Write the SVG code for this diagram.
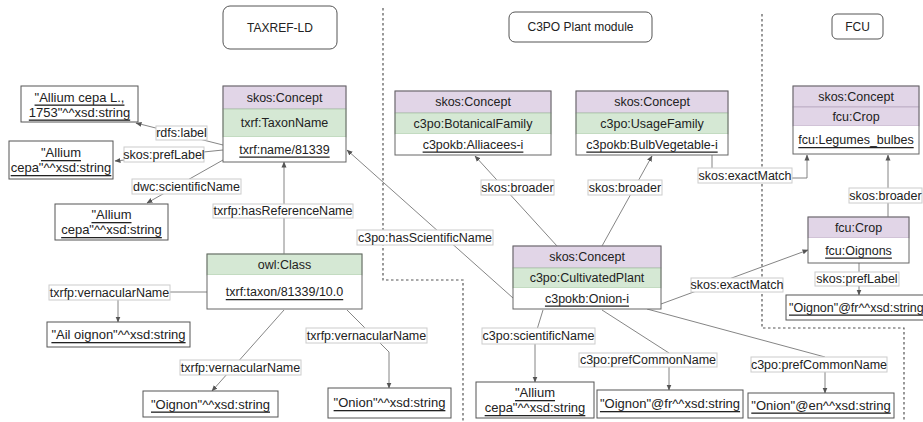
<svg xmlns="http://www.w3.org/2000/svg" width="923" height="422" viewBox="0 0 923 422">
<defs>
<marker id="arr" markerUnits="userSpaceOnUse" markerWidth="6" markerHeight="6" refX="5.5" refY="3" orient="auto">
<path d="M0,0.5 L6,3 L0,5.5 z" fill="#555"/>
</marker>
<style>
text{font-family:"Liberation Sans",Arial,Helvetica,sans-serif;font-size:12.5px;fill:#222;}
.c{text-anchor:middle;dominant-baseline:central;}
.u{text-decoration:underline;}
.t{font-size:12px;}
.lt{font-size:13px;}
.edge{fill:none;stroke:#777;stroke-width:0.9;marker-end:url(#arr);}
.lbl{fill:#fff;stroke:#ccc;stroke-width:1;}
.lit{fill:#fff;stroke:#555;stroke-width:1;}
.title{fill:#fff;stroke:#555;stroke-width:1;}
.pur{fill:#e1d5e7;stroke:#b8a9c0;stroke-width:0.8;}
.grn{fill:#d5e8d4;stroke:#a9c9a6;stroke-width:0.8;}
.wht{fill:#fff;stroke:none;}
.outl{fill:none;stroke:#666;stroke-width:1;}
.dash{fill:none;stroke:#555;stroke-width:1.2;stroke-dasharray:2.5 2.5;}
</style>
</defs>
<rect width="923" height="422" fill="#fff"/>

<g id="separators">
<path class="dash" d="M383,8 V280 H463 V422"/>
<path class="dash" d="M762,14 V328 H904 V422"/>
</g>

<g id="titles">
<g id="title-taxref"><rect class="title" x="223" y="6" width="114" height="43" rx="7"/><text class="c t" x="280" y="28">TAXREF-LD</text></g>
<g id="title-c3po"><rect class="title" x="509" y="12" width="143" height="30" rx="6"/><text class="c t" x="580.5" y="27">C3PO Plant module</text></g>
<g id="title-fcu"><rect class="title" x="832" y="14" width="51" height="25" rx="5"/><text class="c t" x="857.5" y="26.5">FCU</text></g>
</g>

<g id="connectors">
<path class="edge" d="M223,145 L136,123"/>
<path class="edge" d="M223,150 L115,161"/>
<path class="edge" d="M223,160 L147,203"/>
<path class="edge" d="M284,254 L284,162"/>
<path class="edge" d="M513,298 L347,150"/>
<path class="edge" d="M207,292 L118,292 L118,322"/>
<path class="edge" d="M284,310 L212,391"/>
<path class="edge" d="M347,310 L389,352 L389,388"/>
<path class="edge" d="M557,246 L475,156"/>
<path class="edge" d="M602,246 L652,156"/>
<path class="edge" d="M712,155 L712,178 L807,178 L807,155"/>
<path class="edge" d="M888,217 L888,155"/>
<path class="edge" d="M661,304 L808,250"/>
<path class="edge" d="M859,263 L859,295"/>
<path class="edge" d="M543,310 L535,336 L535,382"/>
<path class="edge" d="M602,310 L669,353 L669,390"/>
<path class="edge" d="M647,309 L825,357 L825,393"/>

<g id="edge-labels">
<rect class="lbl" x="156" y="126" width="51" height="14"/><text class="c" x="181.5" y="133">rdfs:label</text>
<rect class="lbl" x="124" y="147" width="80" height="15"/><text class="c" x="164" y="154.5">skos:prefLabel</text>
<rect class="lbl" x="132" y="179" width="109" height="15"/><text class="c" x="186.5" y="186.5">dwc:scientificName</text>
<rect class="lbl" x="213" y="204" width="140" height="14"/><text class="c" x="283" y="211">txrfp:hasReferenceName</text>
<rect class="lbl" x="357" y="230" width="136" height="15"/><text class="c" x="425" y="237.5">c3po:hasScientificName</text>
<rect class="lbl" x="49" y="285" width="121" height="15"/><text class="c" x="109.5" y="292.5">txrfp:vernacularName</text>
<rect class="lbl" x="180" y="360" width="121" height="15"/><text class="c" x="240.5" y="367.5">txrfp:vernacularName</text>
<rect class="lbl" x="306" y="328" width="121" height="15"/><text class="c" x="366.5" y="335.5">txrfp:vernacularName</text>
<rect class="lbl" x="481" y="180" width="73" height="15"/><text class="c" x="517.5" y="187.5">skos:broader</text>
<rect class="lbl" x="588" y="180" width="74" height="15"/><text class="c" x="625" y="187.5">skos:broader</text>
<rect class="lbl" x="698" y="168" width="94" height="15"/><text class="c" x="745" y="175.5">skos:exactMatch</text>
<rect class="lbl" x="849" y="188" width="73" height="15"/><text class="c" x="885.5" y="195.5">skos:broader</text>
<rect class="lbl" x="691" y="278" width="92" height="14"/><text class="c" x="737" y="285">skos:exactMatch</text>
<rect class="lbl" x="815" y="272" width="84" height="14"/><text class="c" x="857" y="279">skos:prefLabel</text>
<rect class="lbl" x="482" y="328" width="113" height="16"/><text class="c" x="538.5" y="336">c3po:scientificName</text>
<rect class="lbl" x="579" y="353" width="138" height="14"/><text class="c" x="648" y="360">c3po:prefCommonName</text>
<rect class="lbl" x="751" y="357" width="136" height="15"/><text class="c" x="819" y="364.5">c3po:prefCommonName</text>
</g>
</g>

<g id="node-taxonname">
<rect class="pur" x="223" y="86" width="123" height="23"/>
<rect class="grn" x="223" y="109" width="123" height="28"/>
<rect class="wht" x="223" y="137" width="123" height="25"/>
<rect class="outl" x="223" y="86" width="123" height="76"/>
<text class="c" x="284.5" y="97.5">skos:Concept</text>
<text class="c" x="284.5" y="123">txrf:TaxonName</text>
<text class="c u" x="284.5" y="149.5">txrf:name/81339</text>
</g>

<g id="node-taxon">
<rect class="grn" x="207" y="254" width="155" height="21"/>
<rect class="wht" x="207" y="275" width="155" height="34"/>
<rect class="outl" x="207" y="254" width="155" height="55"/>
<text class="c" x="284.5" y="264.5">owl:Class</text>
<text class="c u" x="284.5" y="292">txrf:taxon/81339/10.0</text>
</g>

<g id="node-alliacees">
<rect class="pur" x="395" y="91" width="156" height="22"/>
<rect class="grn" x="395" y="113" width="156" height="21"/>
<rect class="wht" x="395" y="134" width="156" height="21"/>
<rect class="outl" x="395" y="91" width="156" height="64"/>
<text class="c" x="473" y="102">skos:Concept</text>
<text class="c" x="473" y="123.5">c3po:BotanicalFamily</text>
<text class="c u" x="473" y="144.5">c3pokb:Alliacees-i</text>
</g>

<g id="node-bulbvegetable">
<rect class="pur" x="576" y="91" width="152" height="22"/>
<rect class="grn" x="576" y="113" width="152" height="21"/>
<rect class="wht" x="576" y="134" width="152" height="21"/>
<rect class="outl" x="576" y="91" width="152" height="64"/>
<text class="c" x="652" y="102">skos:Concept</text>
<text class="c" x="652" y="123.5">c3po:UsageFamily</text>
<text class="c u" x="652" y="144.5">c3pokb:BulbVegetable-i</text>
</g>

<g id="node-onion">
<rect class="pur" x="513" y="246" width="148" height="22"/>
<rect class="grn" x="513" y="268" width="148" height="20"/>
<rect class="wht" x="513" y="288" width="148" height="21"/>
<rect class="outl" x="513" y="246" width="148" height="63"/>
<text class="c" x="587" y="257">skos:Concept</text>
<text class="c" x="587" y="278">c3po:CultivatedPlant</text>
<text class="c u" x="587" y="298.5">c3pokb:Onion-i</text>
</g>

<g id="node-legumes">
<rect class="pur" x="793" y="86" width="126" height="21"/>
<rect class="pur" x="793" y="107" width="126" height="19"/>
<rect class="wht" x="793" y="126" width="126" height="28"/>
<rect class="outl" x="793" y="86" width="126" height="68"/>
<text class="c" x="856" y="96.5">skos:Concept</text>
<text class="c" x="856" y="116.5">fcu:Crop</text>
<text class="c u" x="856" y="140">fcu:Legumes_bulbes</text>
</g>

<g id="node-oignons">
<rect class="pur" x="808" y="217" width="101" height="21"/>
<rect class="wht" x="808" y="238" width="101" height="25"/>
<rect class="outl" x="808" y="217" width="101" height="46"/>
<text class="c" x="858.5" y="227.5">fcu:Crop</text>
<text class="c u" x="858.5" y="250.5">fcu:Oignons</text>
</g>

<g id="literals">
<g id="lit-1"><rect class="lit" x="21" y="86" width="117" height="36"/><text class="c u lt" x="79.5" y="97">"Allium cepa L.,</text><text class="c u lt" x="79.5" y="112">1753"^^xsd:string</text></g>
<g id="lit-2"><rect class="lit" x="9" y="141" width="104" height="38"/><text class="c u lt" x="61" y="152.5">"Allium</text><text class="c u lt" x="61" y="167.5">cepa"^^xsd:string</text></g>
<g id="lit-3"><rect class="lit" x="55" y="204" width="113" height="36"/><text class="c u lt" x="111.5" y="214.5">"Allium</text><text class="c u lt" x="111.5" y="229.5">cepa"^^xsd:string</text></g>
<g id="lit-4"><rect class="lit" x="47" y="322" width="143" height="25"/><text class="c u lt" x="118.5" y="334.5">"Ail oignon"^^xsd:string</text></g>
<g id="lit-5"><rect class="lit" x="143" y="391" width="135" height="26"/><text class="c u lt" x="210.5" y="404">"Oignon"^^xsd:string</text></g>
<g id="lit-6"><rect class="lit" x="328" y="388" width="123" height="30"/><text class="c u lt" x="389.5" y="402.5">"Onion"^^xsd:string</text></g>
<g id="lit-7"><rect class="lit" x="476" y="382" width="118" height="36"/><text class="c u lt" x="535" y="392.5">"Allium</text><text class="c u lt" x="535" y="407.5">cepa"^^xsd:string</text></g>
<g id="lit-8"><rect class="lit" x="597" y="390" width="146" height="28"/><text class="c u lt" x="670" y="403.5">"Oignon"@fr^^xsd:string</text></g>
<g id="lit-9"><rect class="lit" x="748" y="393" width="146" height="25"/><text class="c u lt" x="821" y="405">"Onion"@en^^xsd:string</text></g>
<g id="lit-10"><rect class="lit" x="786" y="295" width="146" height="25"/><text x="789" y="307.5" dominant-baseline="central" class="u" style="font-size:12.5px">"Oignon"@fr^^xsd:string</text></g>
</g>
</svg>
